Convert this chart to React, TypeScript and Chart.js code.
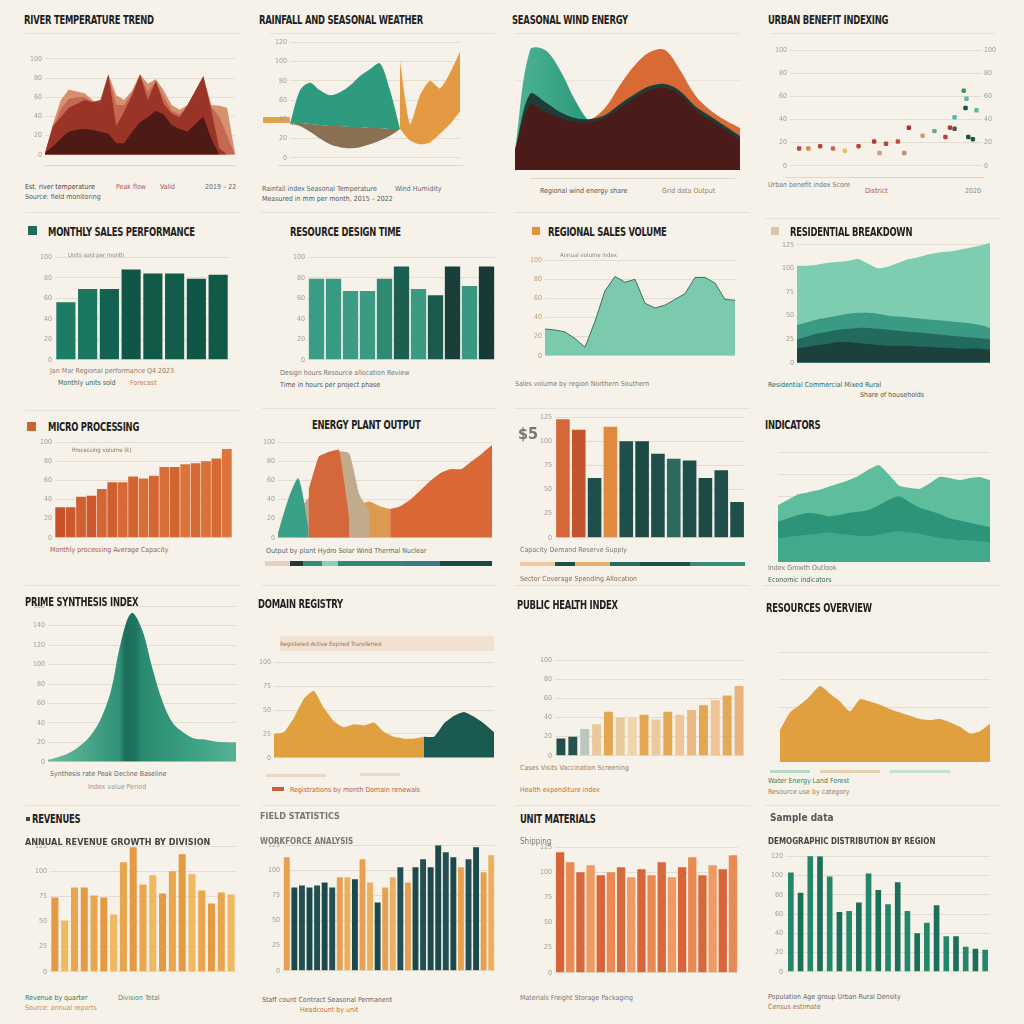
import React, { useEffect, useRef } from "react";
import { Chart, registerables } from "chart.js";

Chart.register(...registerables);

const FONT = "'DejaVu Sans Condensed','Liberation Sans Narrow','DejaVu Sans',sans-serif";
const BG = "#f6f2e9";
const GRID = "#e3ddd1";
const TICK = "#a39d92";

// ---------- shared category labels ----------
const periods = [
  "P01", "P02", "P03", "P04", "P05", "P06", "P07", "P08", "P09", "P10",
  "P11", "P12", "P13", "P14", "P15", "P16", "P17", "P18", "P19", "P20",
  "P21", "P22", "P23", "P24", "P25", "P26", "P27", "P28", "P29", "P30",
];

// ---------- row 1 ----------
const p1Light = [2, 32, 57, 68, 66, 64, 57, 51, 84, 62, 57, 67, 84, 74, 79, 67, 52, 47, 52, 67, 82, 52, 51, 49, 2];
const p1MidLight = [2, 28, 48, 58, 60, 60, 55, 52, 82, 52, 52, 64, 82, 66, 76, 60, 46, 42, 50, 64, 80, 50, 40, 20, 0];
const p1Mid = [2, 30, 39, 49, 53, 57, 55, 57, 84, 30, 45, 62, 84, 57, 77, 53, 43, 39, 52, 67, 82, 47, 7, 0, 0];
const p1Dark = [2, 9, 17, 24, 26, 27, 26, 24, 22, 12, 12, 24, 34, 39, 46, 42, 31, 27, 24, 32, 40, 17, 0, 0, 0];

const p2TealTop = [35, 70, 78, 70, 65, 68, 75, 85, 92, 98, 70, 30, null, null, null, null, null, null];
const p2TealBase = [35, 36, 35, 34, 33, 33, 32, 32, 31, 31, 30, 30, null, null, null, null, null, null];
const p2BrownBase = [35, 33, 27, 20, 14, 11, 10, 11, 14, 18, 23, 30, null, null, null, null, null, null];
const p2OrangeTop = [null, null, null, null, null, null, null, null, null, null, null, 100, 35, 65, 80, 72, 88, 110];
const p2OrangeBase = [null, null, null, null, null, null, null, null, null, null, null, 30, 18, 14, 16, 25, 35, 48];

const p3Teal = [20, 120, 120, 100, 70, 48, 42, 40, 38, 35, 30, 30, 30, 25, 20, 15];
const p3Orange = [null, null, null, 30, 45, 50, 62, 85, 105, 118, 120, 100, 75, 60, 50, 42];
const p3Ridge = [20, 76, 68, 58, 52, 51, 55, 66, 76, 84, 86, 79, 64, 54, 44, 34];
const p3Maroon = [20, 65, 58, 52, 48, 48, 52, 62, 72, 80, 82, 75, 60, 50, 40, 30];

const p4X = [5, 10, 16.5, 23.5, 30, 37.5, 46, 52.5, 59, 65, 72.5, 79, 85, 87.5, 90, 96, 96.5, 95, 97.5, 100, 102, 90, 49, 62.5];
const p4Y = [15, 15, 17, 15, 13, 17, 21, 19, 21, 33, 26, 30, 25, 33, 42, 50, 58, 65, 25, 23, 48, 32, 11, 11];
const p4Colors = ["#b5473a", "#d9893f", "#b5473a", "#c46a4a", "#e2c066", "#b5473a", "#a8402f", "#b5473a", "#c0503c", "#a8302a", "#c9a070", "#6aa88a", "#b5473a", "#a8402f", "#58b8a8", "#1f4f4a", "#58b8a8", "#3a9a60", "#1f4f4a", "#1a5a4c", "#58b8a8", "#555555", "#d0a080", "#c09070"];

// ---------- row 2 ----------
const p5Values = [56, 69, 69, 88, 84, 84, 79, 83];
const p5Colors = ["#1d7c64", "#1b7660", "#136150", "#0f5646", "#115a48", "#125c4a", "#0f5646", "#115a48"];

const p6Values = [79, 79, 67, 67, 79, 91, 69, 63, 91, 72, 91];
const p6Colors = ["#3a9c84", "#389a82", "#3d9c86", "#3a9a82", "#2f8a74", "#1c5e50", "#3a9a82", "#1d5a4e", "#1a3f3a", "#3a9882", "#173a36"];

const p7Values = [28, 27, 25, 18, 9, 36, 68, 83, 77, 80, 55, 50, 53, 59, 65, 82, 82, 76, 59, 58];

const p8Light = [103, 103, 104, 106, 107, 108, 110, 105, 100, 102, 106, 110, 112, 115, 117, 118, 120, 122, 124, 127];
const p8Mid = [40, 43, 46, 48, 50, 52, 53, 53, 52, 50, 49, 48, 47, 46, 45, 44, 43, 42, 40, 37];
const p8Deep = [25, 28, 31, 33, 35, 36, 37, 37, 36, 35, 34, 33, 32, 31, 30, 29, 28, 27, 26, 25];
const p8Darkest = [15, 17, 19, 20, 22, 22, 21, 20, 19, 18, 18, 18, 17, 17, 16, 16, 15, 15, 15, 14];

// ---------- row 3 ----------
const p9Values = [32, 32, 43, 44, 51, 58, 58, 64, 62, 65, 74, 74, 77, 78, 80, 83, 93];
const p9Colors = ["#c9522b", "#cd5a2f", "#d0602f", "#cc5a2e", "#d36634", "#cf5e30", "#d66a36", "#d26532", "#d86d38", "#d36634", "#d86e38", "#d26532", "#db733b", "#d46934", "#da703a", "#d56a35", "#dc743c"];

const p10Teal = [5, 40, 62, 10, null, null, null, null, null, null, null, null, null, null, null, null, null, null, null, null, null, null];
const p10Orange = [null, null, null, 50, 85, 90, 92, 20, null, null, null, null, null, null, null, null, null, null, null, null, null, null];
const p10Tan = [null, null, 30, 42, 62, 82, 90, 88, 45, 28, null, null, null, null, null, null, null, null, null, null, null, null];
const p10Mustard = [null, null, null, null, null, null, null, 30, 35, 38, 33, 30, null, null, null, null, null, null, null, null, null, null];
const p10Right = [null, null, null, null, null, null, null, null, null, null, null, 30, 33, 40, 50, 60, 68, 72, 72, 80, 88, 97];

const p11Values = [123, 112, 62, 115, 100, 100, 87, 82, 80, 62, 70, 37];
const p11Colors = ["#d5683a", "#c25530", "#1f4f4a", "#e08a40", "#1f4f4a", "#1c4a45", "#1f4f4a", "#2c6a60", "#1f4f4a", "#1c4a45", "#1f4f4a", "#1f4f4a"];

const p12Light = [52, 57, 62, 64, 66, 69, 72, 75, 79, 85, 89, 80, 70, 68, 67, 72, 78, 77, 75, 77, 78, 75];
const p12Mid = [37, 40, 43, 45, 44, 42, 43, 45, 46, 48, 52, 57, 60, 55, 50, 47, 44, 40, 38, 36, 34, 32];
const p12Low = [22, 23, 24, 25, 26, 27, 26, 25, 24, 24, 25, 27, 28, 27, 26, 24, 22, 21, 20, 20, 19, 18];

// ---------- row 4 ----------
const p13Values = [2, 5, 9, 16, 26, 43, 72, 124, 153, 136, 96, 61, 39, 30, 24, 23, 21, 20, 20];

const p14Mustard = [25, 27, 42, 62, 70, 52, 38, 32, 35, 34, 37, 27, 22, 20, 20, 22, null, null, null, null, null, null, null];
const p14Teal = [null, null, null, null, null, null, null, null, null, null, null, null, null, null, null, 22, 22, 36, 44, 48, 43, 36, 27];

const p15Values = [18, 20, 28, 33, 46, 40, 40, 43, 38, 46, 43, 48, 53, 58, 63, 73];
const p15Colors = ["#1f4f4a", "#24524c", "#b9c7bd", "#ecc99c", "#e3a653", "#ecc99c", "#f0d4ac", "#e3a653", "#ecc99c", "#e3a653", "#efc69a", "#eab982", "#e3a653", "#efc294", "#e4a95b", "#e8b47c"];

const p16Values = [29, 45, 52, 60, 69, 62, 55, 46, 57, 55, 52, 48, 45, 42, 39, 38, 39, 36, 32, 26, 28, 35];

// ---------- row 5 ----------
const p17Values = [74, 51, 84, 84, 76, 74, 57, 109, 124, 87, 96, 78, 100, 117, 97, 81, 68, 79, 77];
const p17Colors = ["#e39a45", "#f0b860", "#e9a64e", "#e39a45", "#e9a64e", "#e39a45", "#f0b860", "#e9a64e", "#e39a45", "#e9a64e", "#f0b860", "#e39a45", "#e9a64e", "#e39a45", "#f0b860", "#e9a64e", "#e39a45", "#e9a64e", "#f0b860"];

const p18Values = [113, 83, 85, 83, 85, 88, 83, 93, 93, 91, 111, 88, 68, 83, 93, 103, 88, 103, 111, 103, 125, 118, 113, 103, 111, 123, 98, 115];
const p18Colors = ["#e8a050", "#1c4a4c", "#234f55", "#1c4a4c", "#234f55", "#1c4a4c", "#234f55", "#e8a050", "#eab060", "#1c4a4c", "#e8a050", "#eab060", "#1c4a4c", "#e8a050", "#eab060", "#234f55", "#e8a050", "#1c4a4c", "#234f55", "#1c4a4c", "#1c4a4c", "#234f55", "#1c4a4c", "#e8a050", "#234f55", "#1c4a4c", "#e8a050", "#eab060"];

const p19Values = [120, 110, 100, 107, 97, 100, 105, 95, 103, 97, 110, 95, 105, 115, 97, 107, 103, 117];
const p19Colors = ["#d9643a", "#e98a55", "#d66a3c", "#ee9a62", "#d9643a", "#e98a55", "#d66a3c", "#ee9a62", "#d9643a", "#e98a55", "#d66a3c", "#ee9a62", "#d9643a", "#e98a55", "#d66a3c", "#ee9a62", "#d9643a", "#e98a55"];

const p20Values = [103, 82, 121, 120, 99, 62, 63, 72, 102, 85, 70, 93, 63, 40, 51, 69, 37, 37, 26, 24, 23];
const p20Colors = ["#22876b", "#1c6f5a", "#22876b", "#1c6f5a", "#22876b", "#1c6f5a", "#22876b", "#1c6f5a", "#22876b", "#1c6f5a", "#22876b", "#1c6f5a", "#22876b", "#1c6f5a", "#22876b", "#1c6f5a", "#22876b", "#1c6f5a", "#22876b", "#1c6f5a", "#22876b"];

// ---------- helpers ----------
type Box = { left: number; top: number; width: number; height: number };

const place = (l: number, t: number, r: number, b: number, yw = 24, m = 5): Box => ({
  left: l - yw,
  top: t - m,
  width: r - l + yw,
  height: b - t + 2 * m,
});

const yAxis = (max: number, step: number, width = 24, showTicks = true, extra: any = {}) => ({
  min: 0,
  max,
  display: true,
  ticks: {
    display: showTicks,
    stepSize: step,
    includeBounds: false,
    font: { size: 7, family: FONT },
    color: TICK,
    padding: 3,
  },
  grid: { color: GRID, drawTicks: false, lineWidth: 1 },
  border: { display: false },
  afterFit: (s: any) => {
    s.width = width;
  },
  ...extra,
});

const baseOpts = (scales: any) => ({
  responsive: false,
  animation: false,
  events: [],
  plugins: { legend: { display: false }, tooltip: { enabled: false }, title: { display: false } },
  layout: { padding: 0 },
  elements: { line: { tension: 0 } },
  scales,
});

const area = (data: any[], color: any, fill: any = "origin", tension = 0) => ({
  data,
  backgroundColor: color,
  borderColor: "rgba(0,0,0,0)",
  borderWidth: 0,
  pointRadius: 0,
  fill,
  tension,
});

const lineCfg = (datasets: any[], y: any) => ({
  type: "line",
  data: { labels: periods.slice(0, datasets[0].data.length), datasets },
  options: baseOpts({ x: { display: false }, y }),
});

const barCfg = (values: number[], colors: string[], y: any, barPct = 0.86) => ({
  type: "bar",
  data: {
    labels: periods.slice(0, values.length),
    datasets: [{ data: values, backgroundColor: colors, barPercentage: barPct, categoryPercentage: 1, borderWidth: 0 }],
  },
  options: baseOpts({ x: { display: false }, y }),
});

const bellGradient = (c: any) => {
  const { chart } = c;
  const { ctx, chartArea } = chart;
  if (!chartArea) return "#2e9a7e";
  const g = ctx.createLinearGradient(chartArea.left, 0, chartArea.right, 0);
  g.addColorStop(0, "#6bbd9f");
  g.addColorStop(0.38, "#2f9277");
  g.addColorStop(0.41, "#1d6e5a");
  g.addColorStop(0.47, "#1f7560");
  g.addColorStop(0.5, "#2a8a70");
  g.addColorStop(0.75, "#3a9f83");
  g.addColorStop(1, "#56b293");
  return g;
};

const p3Gradient = (c: any) => {
  const { chart } = c;
  const { ctx, chartArea } = chart;
  if (!chartArea) return "#2e9a7e";
  const g = ctx.createLinearGradient(chartArea.left, 0, chartArea.left + 90, 0);
  g.addColorStop(0, "#4db494");
  g.addColorStop(1, "#239275");
  return g;
};

// ---------- chart specs ----------
const specs: { box: Box; config: any }[] = [
  // P1
  {
    box: place(45, 47, 235, 157),
    config: lineCfg(
      [
        area(p1Dark, "#4e1a16"),
        area(p1Mid, "rgba(150,48,36,0.92)"),
        area(p1MidLight, "rgba(196,100,78,0.9)"),
        area(p1Light, "#d69070"),
      ],
      yAxis(110, 20)
    ),
  },
  // P2
  {
    box: place(290, 40, 460, 160),
    config: lineCfg(
      [
        area(p2TealTop, "#2e9a7e", "+1", 0.3),
        area(p2TealBase, "#8a7052", "+1", 0.3),
        area(p2BrownBase, "rgba(0,0,0,0)", false, 0.3),
        area(p2OrangeTop, "#e39a42", "+1", 0.2),
        area(p2OrangeBase, "rgba(0,0,0,0)", false, 0.2),
      ],
      yAxis(120, 20)
    ),
  },
  // P3
  {
    box: place(515, 45, 740, 170, 0, 0),
    config: lineCfg(
      [
        area(p3Maroon, "#4a1b18", "origin", 0.35),
        area(p3Ridge, "#1f3c37", "origin", 0.35),
        area(p3Orange, "#d86a35", "origin", 0.35),
        area(p3Teal, p3Gradient, "origin", 0.35),
      ],
      yAxis(125, 45, 0, false, { grid: { color: "#ebe5da", drawTicks: false } })
    ),
  },
  // P4
  {
    box: { left: 772, top: 43, width: 226, height: 130 },
    config: {
      type: "scatter",
      data: {
        datasets: [
          {
            data: p4X.map((x, i) => ({ x, y: p4Y[i] })),
            backgroundColor: p4Colors,
            borderWidth: 0,
            pointRadius: 2.6,
            pointStyle: "rectRounded",
          },
        ],
      },
      options: baseOpts({
        x: { display: false, type: "linear", min: 0, max: 105 },
        y: yAxis(100, 20, 18),
        y2: {
          position: "right",
          min: 0,
          max: 100,
          ticks: { stepSize: 20, font: { size: 7, family: FONT }, color: TICK, padding: 2 },
          grid: { display: false, drawTicks: false },
          border: { display: false },
          afterFit: (s: any) => {
            s.width = 16;
          },
        },
      }),
    },
  },
  // P5
  { box: place(55, 255, 229, 362), config: barCfg(p5Values, p5Colors, yAxis(100, 20), 0.88) },
  // P6
  { box: place(308, 255, 495, 362), config: barCfg(p6Values, p6Colors, yAxis(100, 20), 0.9) },
  // P7
  {
    box: place(545, 258, 735, 358),
    config: lineCfg(
      [
        {
          ...area(p7Values, "#7ccaae"),
          borderColor: "#3d6e5e",
          borderWidth: 1,
        },
      ],
      yAxis(100, 20, 24, true, {
        ticks: { stepSize: 20, includeBounds: false, font: { size: 7, family: FONT }, color: "#c99a6a", padding: 3 },
      })
    ),
  },
  // P8
  {
    box: place(797, 238, 990, 365, 20),
    config: lineCfg(
      [
        area(p8Darkest, "#1c403c", "origin", 0.3),
        area(p8Deep, "#236a5e", "origin", 0.3),
        area(p8Mid, "#3a9a84", "origin", 0.3),
        area(p8Light, "#7dcdb0", "origin", 0.2),
      ],
      yAxis(130, 25, 20)
    ),
  },
  // P9
  { box: place(55, 440, 232, 540), config: barCfg(p9Values, p9Colors, yAxis(100, 20), 0.94) },
  // P10
  {
    box: place(278, 440, 492, 540),
    config: lineCfg(
      [
        area(p10Teal, "#3aa088", "origin", 0.25),
        area(p10Orange, "#d4683a", "origin", 0.1),
        area(p10Tan, "#c2aa8c", "origin", 0.2),
        area(p10Mustard, "#dc9a50", "origin", 0.2),
        area(p10Right, "#d96836", "origin", 0.2),
      ],
      yAxis(100, 20)
    ),
  },
  // P11
  { box: place(555, 415, 745, 540), config: barCfg(p11Values, p11Colors, yAxis(125, 25), 0.86) },
  // P12
  {
    box: place(778, 447, 990, 557, 14),
    config: lineCfg(
      [
        area(p12Low, "#43a98c", "origin", 0.3),
        area(p12Mid, "#2e9479", "origin", 0.3),
        area(p12Light, "#5ebd9c", "origin", 0.15),
      ],
      yAxis(110, 20, 14, false)
    ),
  },
  // P13
  {
    box: place(48, 604, 236, 764),
    config: lineCfg([area(p13Values, bellGradient, "origin", 0.35)], yAxis(160, 20)),
  },
  // P14
  {
    box: place(274, 660, 494, 760),
    config: lineCfg(
      [area(p14Teal, "#1a5a50", "origin", 0.15), area(p14Mustard, "#e0a040", "origin", 0.15)],
      yAxis(100, 25)
    ),
  },
  // P15
  { box: place(555, 658, 745, 758), config: barCfg(p15Values, p15Colors, yAxis(100, 20), 0.75) },
  // P16
  {
    box: place(780, 657, 990, 757, 12),
    config: lineCfg([area(p16Values, "#e0a040", "origin", 0.2)], yAxis(100, 25, 12, false)),
  },
  // P17
  { box: place(50, 844, 236, 974), config: barCfg(p17Values, p17Colors, yAxis(125, 25), 0.72) },
  // P18
  { box: place(283, 843, 495, 973), config: barCfg(p18Values, p18Colors, yAxis(125, 25), 0.78) },
  // P19
  { box: place(555, 845, 738, 975), config: barCfg(p19Values, p19Colors, yAxis(125, 25), 0.82) },
  // P20
  { box: place(786, 854, 990, 974), config: barCfg(p20Values, p20Colors, yAxis(120, 20), 0.58) },
];

// ---------- text & decoration ----------
type Txt = { x: number; y: number; t: string; s?: number; c?: string; b?: boolean };

const titles: Txt[] = [
  { x: 24, y: 13, t: "RIVER TEMPERATURE TREND" },
  { x: 259, y: 13, t: "RAINFALL AND SEASONAL WEATHER" },
  { x: 512, y: 13, t: "SEASONAL WIND ENERGY" },
  { x: 768, y: 13, t: "URBAN BENEFIT INDEXING" },
  { x: 48, y: 225, t: "MONTHLY SALES PERFORMANCE" },
  { x: 290, y: 225, t: "RESOURCE DESIGN TIME" },
  { x: 548, y: 225, t: "REGIONAL SALES VOLUME" },
  { x: 790, y: 225, t: "RESIDENTIAL BREAKDOWN" },
  { x: 48, y: 420, t: "MICRO PROCESSING" },
  { x: 312, y: 418, t: "ENERGY PLANT OUTPUT" },
  { x: 765, y: 418, t: "INDICATORS" },
  { x: 25, y: 595, t: "PRIME SYNTHESIS INDEX" },
  { x: 258, y: 597, t: "DOMAIN REGISTRY" },
  { x: 517, y: 598, t: "PUBLIC HEALTH INDEX" },
  { x: 766, y: 601, t: "RESOURCES OVERVIEW" },
  { x: 32, y: 812, t: "REVENUES" },
  { x: 520, y: 812, t: "UNIT MATERIALS" },
];

const smallText: Txt[] = [
  // row 1
  { x: 25, y: 184, t: "Est. river temperature", s: 7, c: "#444" },
  { x: 116, y: 184, t: "Peak flow", s: 7, c: "#c0504a" },
  { x: 160, y: 184, t: "Valid", s: 7, c: "#a05040" },
  { x: 205, y: 184, t: "2019 – 22", s: 7, c: "#666" },
  { x: 25, y: 194, t: "Source: field monitoring", s: 7, c: "#555" },
  { x: 262, y: 186, t: "Rainfall index   Seasonal   Temperature", s: 7, c: "#4a6a70" },
  { x: 395, y: 186, t: "Wind   Humidity", s: 7, c: "#666" },
  { x: 262, y: 196, t: "Measured in mm per month, 2015 – 2022", s: 7, c: "#555" },
  { x: 540, y: 188, t: "Regional wind energy share", s: 7, c: "#555" },
  { x: 662, y: 188, t: "Grid data   Output", s: 7, c: "#a08060" },
  { x: 768, y: 182, t: "Urban benefit index   Score", s: 7, c: "#777" },
  { x: 865, y: 188, t: "District", s: 7, c: "#a06040" },
  { x: 965, y: 188, t: "2020", s: 7, c: "#888" },
  // row 2
  { x: 50, y: 368, t: "Jan    Mar    Regional performance    Q4 2023", s: 7, c: "#8a7a60" },
  { x: 58, y: 380, t: "Monthly units sold", s: 7, c: "#2f6a58" },
  { x: 130, y: 380, t: "Forecast", s: 7, c: "#c08050" },
  { x: 68, y: 252, t: "Units sold per month", s: 6, c: "#888" },
  { x: 280, y: 370, t: "Design hours   Resource allocation   Review", s: 7, c: "#777" },
  { x: 280, y: 382, t: "Time in hours per project phase", s: 7, c: "#555" },
  { x: 515, y: 381, t: "Sales volume by region   Northern   Southern", s: 7, c: "#8a7a5a" },
  { x: 560, y: 252, t: "Annual volume index", s: 6, c: "#888" },
  { x: 768, y: 382, t: "Residential   Commercial   Mixed   Rural", s: 7, c: "#2f6a58" },
  { x: 860, y: 392, t: "Share of households", s: 7, c: "#555" },
  // row 3
  { x: 50, y: 547, t: "Monthly processing   Average   Capacity", s: 7, c: "#a06040" },
  { x: 72, y: 447, t: "Processing volume (k)", s: 6, c: "#8a7050" },
  { x: 266, y: 548, t: "Output by plant   Hydro   Solar   Wind   Thermal   Nuclear", s: 7, c: "#5a6a60" },
  { x: 520, y: 547, t: "Capacity   Demand   Reserve   Supply", s: 7, c: "#777" },
  { x: 520, y: 576, t: "Sector   Coverage   Spending   Allocation", s: 7, c: "#8a6a50" },
  { x: 768, y: 565, t: "Index   Growth   Outlook", s: 7, c: "#777" },
  { x: 768, y: 577, t: "Economic indicators", s: 7, c: "#2f6a58" },
  // row 4
  { x: 50, y: 771, t: "Synthesis rate   Peak   Decline   Baseline", s: 7, c: "#666" },
  { x: 88, y: 784, t: "Index value   Period", s: 7, c: "#999" },
  { x: 280, y: 641, t: "Registered   Active   Expired   Transferred", s: 6, c: "#9a7050" },
  { x: 290, y: 787, t: "Registrations by month   Domain renewals", s: 7, c: "#c0603a" },
  { x: 520, y: 765, t: "Cases   Visits   Vaccination   Screening", s: 7, c: "#a08050" },
  { x: 520, y: 787, t: "Health expenditure index", s: 7, c: "#c07040" },
  { x: 768, y: 778, t: "Water   Energy   Land   Forest", s: 7, c: "#3a7a60" },
  { x: 768, y: 789, t: "Resource use by category", s: 7, c: "#a08050" },
  // row 5
  { x: 25, y: 838, t: "ANNUAL REVENUE GROWTH BY DIVISION", s: 9, c: "#444", b: true },
  { x: 25, y: 995, t: "Revenue by quarter", s: 7, c: "#2f7a60" },
  { x: 118, y: 995, t: "Division   Total", s: 7, c: "#4a8a70" },
  { x: 25, y: 1005, t: "Source: annual reports", s: 7, c: "#d08a50" },
  { x: 260, y: 812, t: "FIELD STATISTICS", s: 9, c: "#777", b: true },
  { x: 260, y: 838, t: "WORKFORCE ANALYSIS", s: 8, c: "#777", b: true },
  { x: 262, y: 997, t: "Staff count   Contract   Seasonal   Permanent", s: 7, c: "#666" },
  { x: 300, y: 1007, t: "Headcount by unit", s: 7, c: "#c07040" },
  { x: 520, y: 838, t: "Shipping", s: 8, c: "#777" },
  { x: 520, y: 995, t: "Materials   Freight   Storage   Packaging", s: 7, c: "#777" },
  { x: 770, y: 812, t: "Sample data", s: 10, c: "#555", b: true },
  { x: 768, y: 838, t: "DEMOGRAPHIC DISTRIBUTION BY REGION", s: 8, c: "#444", b: true },
  { x: 768, y: 994, t: "Population   Age group   Urban   Rural   Density", s: 7, c: "#666" },
  { x: 768, y: 1004, t: "Census estimate", s: 7, c: "#a07050" },
];

type Rect = { x: number; y: number; w: number; h: number; c: string };

const rects: Rect[] = [
  // title swatches
  { x: 28, y: 226, w: 9, h: 9, c: "#1f6a5a" },
  { x: 532, y: 227, w: 8, h: 8, c: "#e3913e" },
  { x: 771, y: 227, w: 8, h: 8, c: "#d8c7ae" },
  { x: 27, y: 422, w: 9, h: 9, c: "#c8643a" },
  { x: 26, y: 817, w: 4, h: 4, c: "#444" },
  { x: 263, y: 117, w: 27, h: 6, c: "#e3a24c" },
  // separator lines
  { x: 25, y: 33, w: 215, h: 1, c: "#e6e0d5" },
  { x: 270, y: 33, w: 225, h: 1, c: "#e6e0d5" },
  { x: 515, y: 33, w: 225, h: 1, c: "#e6e0d5" },
  { x: 770, y: 33, w: 225, h: 1, c: "#e6e0d5" },
  { x: 25, y: 212, w: 215, h: 1, c: "#e6e0d5" },
  { x: 260, y: 212, w: 235, h: 1, c: "#e6e0d5" },
  { x: 515, y: 212, w: 235, h: 1, c: "#e6e0d5" },
  { x: 765, y: 218, w: 235, h: 1, c: "#e6e0d5" },
  { x: 25, y: 410, w: 215, h: 1, c: "#e6e0d5" },
  { x: 262, y: 408, w: 235, h: 1, c: "#e6e0d5" },
  { x: 515, y: 408, w: 235, h: 1, c: "#e6e0d5" },
  { x: 25, y: 585, w: 215, h: 1, c: "#e6e0d5" },
  { x: 262, y: 585, w: 235, h: 1, c: "#e6e0d5" },
  { x: 515, y: 585, w: 235, h: 1, c: "#e6e0d5" },
  { x: 762, y: 585, w: 238, h: 1, c: "#e6e0d5" },
  { x: 25, y: 805, w: 215, h: 1, c: "#e6e0d5" },
  { x: 262, y: 805, w: 235, h: 1, c: "#e6e0d5" },
  { x: 515, y: 805, w: 235, h: 1, c: "#e6e0d5" },
  { x: 765, y: 805, w: 235, h: 1, c: "#e6e0d5" },
  { x: 45, y: 165, w: 190, h: 1, c: "#ddd6ca" },
  { x: 278, y: 165, w: 185, h: 1, c: "#ddd6ca" },
  { x: 530, y: 178, w: 205, h: 1, c: "#ddd6ca" },
  { x: 785, y: 177, w: 200, h: 1, c: "#ddd6ca" },
  // P10 colour strip
  { x: 265, y: 561, w: 25, h: 5, c: "#e8d0c0" },
  { x: 290, y: 561, w: 13, h: 5, c: "#1f3a34" },
  { x: 303, y: 561, w: 19, h: 5, c: "#3a8a78" },
  { x: 322, y: 561, w: 16, h: 5, c: "#8ad0bc" },
  { x: 338, y: 561, w: 65, h: 5, c: "#2f8a78" },
  { x: 403, y: 561, w: 37, h: 5, c: "#3a7a8a" },
  { x: 440, y: 561, w: 52, h: 5, c: "#1b4a44" },
  // P11 strip
  { x: 520, y: 562, w: 35, h: 4, c: "#f0c8a0" },
  { x: 555, y: 562, w: 20, h: 4, c: "#1f4f4a" },
  { x: 575, y: 562, w: 35, h: 4, c: "#e8b070" },
  { x: 610, y: 562, w: 30, h: 4, c: "#2a6a60" },
  { x: 640, y: 562, w: 50, h: 4, c: "#1f4f4a" },
  { x: 690, y: 562, w: 55, h: 4, c: "#3a8a78" },
  // P14 header strip & bars
  { x: 280, y: 636, w: 214, h: 15, c: "#f1e1d2" },
  { x: 266, y: 774, w: 60, h: 3, c: "#ead9c8" },
  { x: 360, y: 773, w: 40, h: 3, c: "#ead9c8" },
  { x: 272, y: 787, w: 12, h: 4, c: "#c8603a" },
  // P16 strips
  { x: 770, y: 770, w: 40, h: 3, c: "#b8d8c8" },
  { x: 820, y: 770, w: 60, h: 3, c: "#e8d0b0" },
  { x: 890, y: 770, w: 60, h: 3, c: "#c8e0d0" },
];

function ChartBox({ box, config }: { box: Box; config: any }) {
  const ref = useRef<HTMLCanvasElement>(null);
  useEffect(() => {
    if (!ref.current) return;
    const chart = new Chart(ref.current, config);
    return () => chart.destroy();
  }, [config]);
  return (
    <canvas
      ref={ref}
      width={box.width}
      height={box.height}
      style={{ position: "absolute", left: box.left, top: box.top, width: box.width, height: box.height }}
    />
  );
}

export default function App() {
  return (
    <div
      style={{
        position: "absolute",
        left: 0,
        top: 0,
        width: 1024,
        height: 1024,
        background: BG,
        overflow: "hidden",
        fontFamily: FONT,
      }}
    >
      {rects.map((r, i) => (
        <div key={"r" + i} style={{ position: "absolute", left: r.x, top: r.y, width: r.w, height: r.h, background: r.c }} />
      ))}
      {specs.map((s, i) => (
        <ChartBox key={"c" + i} box={s.box} config={s.config} />
      ))}
      {titles.map((t, i) => (
        <div
          key={"t" + i}
          style={{
            position: "absolute",
            left: t.x,
            top: t.y,
            fontSize: 12,
            fontWeight: 700,
            color: "#1e1e1e",
            letterSpacing: "-0.3px",
            whiteSpace: "nowrap",
            lineHeight: "14px",
            transform: "scaleX(0.78)",
            transformOrigin: "left top",
          }}
        >
          {t.t}
        </div>
      ))}
      {smallText.map((t, i) => (
        <div
          key={"s" + i}
          style={{
            position: "absolute",
            left: t.x,
            top: t.y,
            fontSize: t.s || 7,
            fontWeight: t.b ? 700 : 400,
            color: t.c || "#666",
            whiteSpace: "nowrap",
            lineHeight: 1.1,
          }}
        >
          {t.t}
        </div>
      ))}
      <div style={{ position: "absolute", left: 518, top: 424, fontSize: 16, fontWeight: 700, color: "#7a746a" }}>$5</div>
    </div>
  );
}
